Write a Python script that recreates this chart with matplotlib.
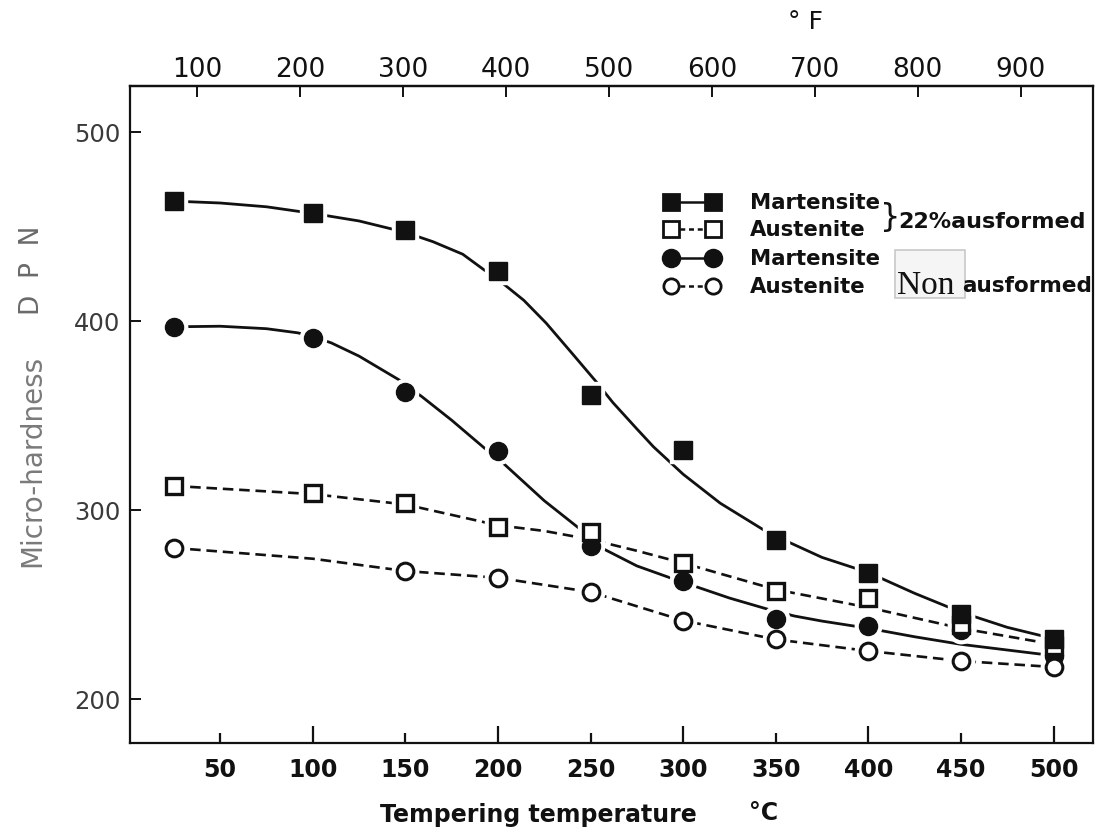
import matplotlib
matplotlib.use('Agg')
import matplotlib.pyplot as plt
from matplotlib.lines import Line2D
from matplotlib.patches import Rectangle

# ---------------- data ----------------
temps = [25, 100, 150, 200, 250, 300, 350, 400, 450, 500]
mart_22 = [463.5, 457, 448, 426.5, 361, 332, 284, 267, 245, 232]
aust_22 = [312.8, 308.9, 303.6, 291, 288.2, 272.2, 257, 253.6, 239, 228]
mart_non = [396.8, 391.2, 362.5, 331.2, 281, 262.6, 242.3, 238.6, 236.8, 223]
temps_aust_non = [25, 150, 200, 250, 300, 350, 400, 450, 500]
aust_non = [280, 267.8, 264.2, 256.7, 241.6, 231.6, 225.5, 220.2, 217]

# hand-drawn fitted curves
curve_m22_x = [25, 50, 75, 100, 125, 150, 165, 181, 192, 202, 214, 226, 240, 253, 262,
               275, 284, 300, 320, 346, 375, 400, 425, 450, 475, 500]
curve_m22_y = [463.5, 462.5, 460.5, 457, 453, 447, 442, 435.4, 427.5, 420.5, 411, 399,
               383, 368, 357, 343, 333.5, 319, 303.7, 288, 275, 267, 256, 246, 238, 232]
curve_mnon_x = [25, 50, 75, 92, 101, 110, 125, 147, 159, 175, 193, 203, 225, 246, 252, 258,
                275, 295, 310, 325, 346, 360, 375, 400, 425, 450, 475, 500]
curve_mnon_y = [397, 397.3, 396, 393.8, 391.5, 388.5, 381.5, 368.7, 360, 347.6, 332.6, 324.7,
                305, 288.7, 283, 279, 270.5, 263.5, 258.5, 253.5, 247.5, 244, 241.3,
                237.5, 233, 229, 226, 223]
curve_a22_x = [25, 100, 150, 200, 225, 250, 275, 300, 350, 400, 450, 500]
curve_a22_y = [312.8, 308.5, 303, 292, 289, 284.5, 278.5, 272, 258, 248.5, 237.5, 229]
curve_anon_x = [25, 100, 150, 200, 250, 300, 350, 400, 450, 500]
curve_anon_y = [280, 274.3, 267.8, 264.2, 256.7, 241.6, 231.6, 225.5, 220.2, 217]

x_major = [100, 200, 300, 400, 500]
x_minor = [50, 150, 250, 350, 450]
y_ticks = [200, 300, 400, 500]
f_ticks = [100, 200, 300, 400, 500, 600, 700, 800, 900]

legend_labels = ['Martensite', 'Austenite', 'Martensite', 'Austenite']

# ---------------- figure ----------------
W, H = 1107, 836
fig = plt.figure(figsize=(W / 100, H / 100), dpi=100)
fig.patch.set_facecolor('white')
FONT = 'DejaVu Sans'


def px(x, y):
    return x / W, 1 - y / H


ink = '#111111'
ax = fig.add_axes([130 / W, 1 - 743 / H, (1093 - 130) / W, (743 - 86) / H])
ax.set_xlim(1.35, 521.3)
ax.set_ylim(176.8, 524.4)
for s in ax.spines.values():
    s.set_color(ink)
    s.set_linewidth(1.6)

# curves
ax.plot(curve_m22_x, curve_m22_y, color=ink, lw=2.0, zorder=2, solid_capstyle='round',
        solid_joinstyle='round')
ax.plot(curve_mnon_x, curve_mnon_y, color=ink, lw=2.0, zorder=2, solid_capstyle='round',
        solid_joinstyle='round')
ax.plot(curve_a22_x, curve_a22_y, color=ink, lw=1.9, ls=(0, (4, 2.2)), zorder=2)
ax.plot(curve_anon_x, curve_anon_y, color=ink, lw=1.9, ls=(0, (4, 2.2)), zorder=2)

ms = 13
# white halos around markers (gap between hand-drawn lines and symbols)
for xs, ys, mk in [(temps, mart_22, 's'), (temps, aust_22, 's'),
                   (temps, mart_non, 'o'), (temps_aust_non, aust_non, 'o')]:
    ax.plot(xs, ys, ls='none', marker=mk, ms=ms + 6, mfc='white', mec='white', zorder=3)

ax.plot(temps, mart_non, ls='none', marker='o', ms=ms, mfc=ink, mec=ink, zorder=4)
ax.plot(temps_aust_non, aust_non, ls='none', marker='o', ms=ms - 1, mfc='white', mec=ink,
        mew=2.2, zorder=4)
ax.plot(temps, aust_22, ls='none', marker='s', ms=ms - 2, mfc='white', mec=ink, mew=2.4, zorder=5)
ax.plot(temps, mart_22, ls='none', marker='s', ms=ms - 0.5, mfc=ink, mec=ink, zorder=5)

# ticks
ax.set_xticks(x_major)
ax.set_xticks(x_minor, minor=True)
ax.set_xticklabels([str(v) for v in x_major])
ax.set_xticklabels([str(v) for v in x_minor], minor=True)
ax.tick_params(axis='x', which='major', direction='in', length=12, width=1.6, color=ink,
               pad=11, labelsize=17, labelcolor=ink)
ax.tick_params(axis='x', which='minor', direction='in', length=7, width=1.6, color=ink,
               pad=11, labelsize=17, labelcolor=ink)
for lab in ax.get_xticklabels(which='both'):
    lab.set_fontfamily(FONT)
    lab.set_fontweight('bold')

ax.set_yticks(y_ticks)
ax.set_yticklabels([str(v) for v in y_ticks])
ax.tick_params(axis='y', direction='in', length=8, width=1.4, color=ink, pad=7,
               labelsize=17.5, labelcolor='#3a3a3a')
for lab in ax.get_yticklabels():
    lab.set_fontfamily(FONT)

secax = ax.secondary_xaxis('top', functions=(lambda c: c * 9 / 5 + 32,
                                             lambda f: (f - 32) * 5 / 9))
secax.set_xticks(f_ticks)
secax.set_xticklabels([str(v) for v in f_ticks])
secax.tick_params(direction='in', length=8, width=1.4, color=ink, pad=2, labelsize=19,
                  labelcolor=ink)
secax.spines['top'].set_linewidth(1.6)
for lab in secax.get_xticklabels():
    lab.set_fontfamily(FONT)

# axis titles
fig.text(*px(805, 22), '° F', ha='center', va='center', fontsize=18, family=FONT, color=ink)
fig.text(*px(380, 815), 'Tempering temperature', ha='left', va='center', fontsize=17,
         family=FONT, fontweight='bold', color=ink)
fig.text(*px(764, 813), '°C', ha='center', va='center', fontsize=17, family=FONT,
         fontweight='bold', color=ink)
fig.text(*px(32, 461), 'Micro-hardness', ha='center', va='center', rotation=90, fontsize=20,
         family=FONT, color='#7a7a7a')
fig.text(*px(32, 270), 'D  P  N', ha='center', va='center', rotation=90, fontsize=19,
         family=FONT, color='#6a6a6a')

# ---------------- legend (hand-made, like the original) ----------------
rows_y = [202, 229, 258, 286]
styles = [('s', ink, '-'), ('s', 'white', (0, (2, 1.5))), ('o', ink, '-'), ('o', 'white', (0, (2, 1.5)))]
for (mk, fc, ls), yy, lab in zip(styles, rows_y, legend_labels):
    x0, y0 = px(671, yy)
    x1, _ = px(713, yy)
    fig.add_artist(Line2D([x0, x1], [y0, y0], transform=fig.transFigure, color=ink, lw=1.8,
                          ls=ls, zorder=5))
    fig.add_artist(Line2D([x0, x1], [y0, y0], transform=fig.transFigure, ls='none', marker=mk,
                          ms=ms - 1 if fc == ink else ms - 2, mfc=fc, mec=ink,
                          mew=2.0, zorder=6))
    fig.text(*px(750, yy + 1), lab, ha='left', va='center', fontsize=15.3, family=FONT,
             fontweight='bold', color=ink)

fig.text(*px(890, 218), '}', ha='center', va='center', fontsize=23, family=FONT,
         color=ink)
fig.text(*px(898, 222), '22%ausformed', ha='left', va='center', fontsize=16, family=FONT,
         fontweight='bold', color=ink)

fig.add_artist(Rectangle(px(895, 298), 70 / W, 48 / H, transform=fig.transFigure,
                         facecolor='#f5f5f5', edgecolor='#c8c8c8', lw=1.2, zorder=1))
fig.text(*px(897, 294), 'Non', ha='left', va='baseline', fontsize=24,
         family='Liberation Serif', color=ink, zorder=3)
fig.text(*px(962, 292), 'ausformed', ha='left', va='baseline', fontsize=15.5, family=FONT,
         fontweight='bold', color=ink, zorder=3)

fig.savefig('out.png', dpi=100, facecolor='white')
